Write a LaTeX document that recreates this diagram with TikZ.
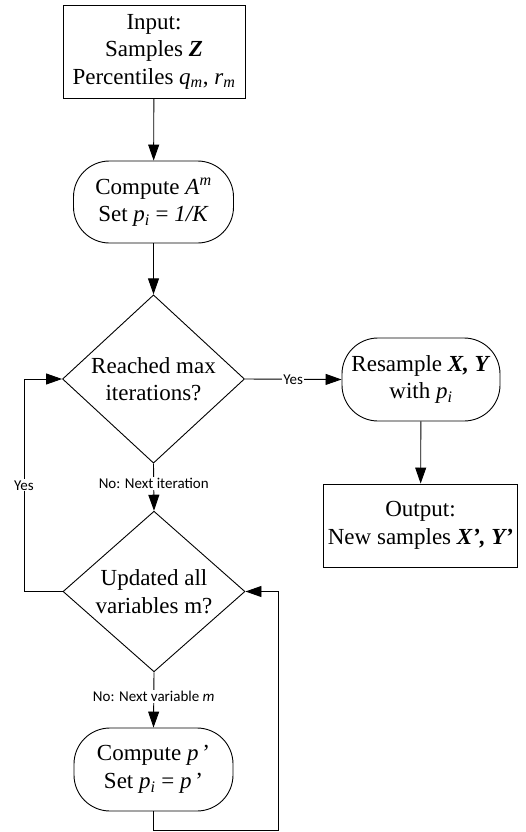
\documentclass[tikz,border=0pt]{standalone}
\usepackage{fontspec}
\setmainfont{Liberation Serif}
\newfontfamily\lblfont{Carlito}
\usetikzlibrary{arrows.meta,shapes.geometric}
\newcommand{\mainsz}{\fontsize{23}{27.5}\selectfont}
\newcommand{\bi}[1]{\textbf{\textit{#1}}}
\begin{document}
\begin{tikzpicture}[x=1pt,y=-1pt,
  base/.style={draw, line width=0.9pt, align=center, font=\mainsz, inner sep=0pt},
  sqbox/.style={base, rectangle},
  rndbox/.style={base, rectangle, rounded corners=36pt},
  dia/.style={base, diamond, minimum width=182pt, minimum height=148pt},
  arr/.style={line width=0.9pt, -{Triangle[length=16pt,width=11pt]}},
  lbl/.style={font=\lblfont\fontsize{15}{17}\selectfont, fill=white, inner sep=1pt}]
\useasboundingbox (0,0) rectangle (526,832);

\node[sqbox, minimum width=182pt, minimum height=93pt] (in) at (154,51.5)
  {Input:\\Samples \bi{Z}\\Percentiles \textit{q}\textsubscript{\textit{m}}, \textit{r}\textsubscript{\textit{m}}};
\node[rndbox, minimum width=160pt, minimum height=82pt] (ca) at (153.5,202)
  {Compute \textit{A}\textsuperscript{\textit{m}}\\Set \textit{p}\textsubscript{\textit{i}} = \textit{1/K}};
\node[dia] (d1) at (153.5,379) {Reached max\\iterations?};
\node[dia] (d2) at (154,591.5) {Updated all\\variables m?};
\node[rndbox, minimum width=159pt, minimum height=83pt] (cp) at (153.5,769.5)
  {Compute \textit{p}\,’\\Set \textit{p}\textsubscript{\textit{i}} = \textit{p}\,’};
\node[rndbox, minimum width=158pt, minimum height=83pt] (rs) at (421,379.5)
  {Resample \bi{X, Y}\\with \textit{p}\textsubscript{\textit{i}}};
\node[sqbox, minimum width=194pt, minimum height=83pt] (out) at (420.5,525.5)
  {Output:\\New samples \bi{X’, Y’}};

\coordinate (ll) at (24,591.5);
\coordinate (rl) at (278,830);

\draw[arr] (in) -- (ca);
\draw[arr] (ca) -- (d1);
\draw[arr] (d1.east) -- node[lbl]{Yes} (rs.west);
\draw[arr] (rs) -- (out);
\draw[arr] (d1.south) -- node[lbl, pos=0.42]{No: Next iteration} (d2.north);
\draw[arr] (d2.south) -- node[lbl, pos=0.44]{No: Next variable \textit{m}} (cp.north);
\draw[arr] (d2.west) -- (ll) |- node[lbl, pos=0.25]{Yes} (d1.west);
\draw[arr] (cp.south) |- (rl) |- (d2.east);
\end{tikzpicture}
\end{document}
